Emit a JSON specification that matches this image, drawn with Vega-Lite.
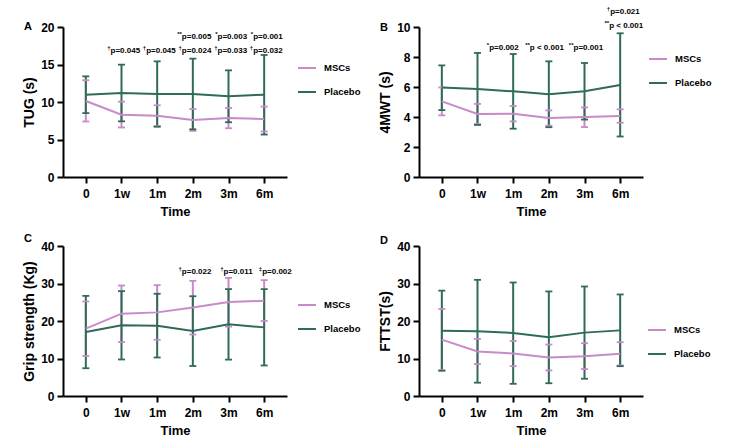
{
  "$schema": "https://vega.github.io/schema/vega-lite/v6.json",
  "padding": {"left": 22, "top": 5, "right": 5, "bottom": 5},
  "background": "white",
  "datasets": {
    "summary": [
      {"panel": "A", "time": "0", "group": "MSCs", "mean": 10.13, "lo": 7.4, "hi": 12.9},
      {"panel": "A", "time": "1w", "group": "MSCs", "mean": 8.31, "lo": 6.6, "hi": 10.04},
      {"panel": "A", "time": "1m", "group": "MSCs", "mean": 8.18, "lo": 6.8, "hi": 9.56},
      {"panel": "A", "time": "2m", "group": "MSCs", "mean": 7.6, "lo": 6.15, "hi": 9.07},
      {"panel": "A", "time": "3m", "group": "MSCs", "mean": 7.87, "lo": 6.5, "hi": 9.2},
      {"panel": "A", "time": "6m", "group": "MSCs", "mean": 7.73, "lo": 6.06, "hi": 9.38},
      {"panel": "A", "time": "0", "group": "Placebo", "mean": 10.98, "lo": 8.52, "hi": 13.42},
      {"panel": "A", "time": "1w", "group": "Placebo", "mean": 11.2, "lo": 7.42, "hi": 14.98},
      {"panel": "A", "time": "1m", "group": "Placebo", "mean": 11.07, "lo": 6.7, "hi": 15.42},
      {"panel": "A", "time": "2m", "group": "Placebo", "mean": 11.07, "lo": 6.36, "hi": 15.78},
      {"panel": "A", "time": "3m", "group": "Placebo", "mean": 10.76, "lo": 7.3, "hi": 14.22},
      {"panel": "A", "time": "6m", "group": "Placebo", "mean": 10.98, "lo": 5.66, "hi": 16.27},
      {"panel": "B", "time": "0", "group": "MSCs", "mean": 5.04, "lo": 4.11, "hi": 5.97},
      {"panel": "B", "time": "1w", "group": "MSCs", "mean": 4.2, "lo": 3.53, "hi": 4.87},
      {"panel": "B", "time": "1m", "group": "MSCs", "mean": 4.22, "lo": 3.71, "hi": 4.73},
      {"panel": "B", "time": "2m", "group": "MSCs", "mean": 3.93, "lo": 3.42, "hi": 4.44},
      {"panel": "B", "time": "3m", "group": "MSCs", "mean": 4.0, "lo": 3.33, "hi": 4.64},
      {"panel": "B", "time": "6m", "group": "MSCs", "mean": 4.07, "lo": 3.62, "hi": 4.51},
      {"panel": "B", "time": "0", "group": "Placebo", "mean": 5.96, "lo": 4.46, "hi": 7.44},
      {"panel": "B", "time": "1w", "group": "Placebo", "mean": 5.87, "lo": 3.47, "hi": 8.27},
      {"panel": "B", "time": "1m", "group": "Placebo", "mean": 5.71, "lo": 3.22, "hi": 8.2},
      {"panel": "B", "time": "2m", "group": "Placebo", "mean": 5.51, "lo": 3.32, "hi": 7.71},
      {"panel": "B", "time": "3m", "group": "Placebo", "mean": 5.71, "lo": 3.83, "hi": 7.6},
      {"panel": "B", "time": "6m", "group": "Placebo", "mean": 6.13, "lo": 2.7, "hi": 9.58},
      {"panel": "C", "time": "0", "group": "MSCs", "mean": 17.96, "lo": 10.7, "hi": 25.2},
      {"panel": "C", "time": "1w", "group": "MSCs", "mean": 21.95, "lo": 14.4, "hi": 29.47},
      {"panel": "C", "time": "1m", "group": "MSCs", "mean": 22.3, "lo": 15.0, "hi": 29.56},
      {"panel": "C", "time": "2m", "group": "MSCs", "mean": 23.63, "lo": 16.4, "hi": 30.7},
      {"panel": "C", "time": "3m", "group": "MSCs", "mean": 25.04, "lo": 18.5, "hi": 31.5},
      {"panel": "C", "time": "6m", "group": "MSCs", "mean": 25.4, "lo": 20.0, "hi": 30.9},
      {"panel": "C", "time": "0", "group": "Placebo", "mean": 17.08, "lo": 7.4, "hi": 26.7},
      {"panel": "C", "time": "1w", "group": "Placebo", "mean": 18.85, "lo": 9.74, "hi": 27.96},
      {"panel": "C", "time": "1m", "group": "Placebo", "mean": 18.76, "lo": 10.27, "hi": 27.26},
      {"panel": "C", "time": "2m", "group": "Placebo", "mean": 17.35, "lo": 8.0, "hi": 26.6},
      {"panel": "C", "time": "3m", "group": "Placebo", "mean": 19.1, "lo": 9.7, "hi": 28.5},
      {"panel": "C", "time": "6m", "group": "Placebo", "mean": 18.3, "lo": 8.14, "hi": 28.5},
      {"panel": "D", "time": "0", "group": "MSCs", "mean": 15.04, "lo": 6.9, "hi": 23.19},
      {"panel": "D", "time": "1w", "group": "MSCs", "mean": 11.86, "lo": 8.5, "hi": 15.22},
      {"panel": "D", "time": "1m", "group": "MSCs", "mean": 11.33, "lo": 7.96, "hi": 14.69},
      {"panel": "D", "time": "2m", "group": "MSCs", "mean": 10.27, "lo": 6.81, "hi": 13.72},
      {"panel": "D", "time": "3m", "group": "MSCs", "mean": 10.62, "lo": 7.17, "hi": 14.07},
      {"panel": "D", "time": "6m", "group": "MSCs", "mean": 11.24, "lo": 8.14, "hi": 14.34},
      {"panel": "D", "time": "0", "group": "Placebo", "mean": 17.43, "lo": 6.73, "hi": 28.1},
      {"panel": "D", "time": "1w", "group": "Placebo", "mean": 17.26, "lo": 3.55, "hi": 30.97},
      {"panel": "D", "time": "1m", "group": "Placebo", "mean": 16.8, "lo": 3.25, "hi": 30.27},
      {"panel": "D", "time": "2m", "group": "Placebo", "mean": 15.66, "lo": 3.4, "hi": 27.88},
      {"panel": "D", "time": "3m", "group": "Placebo", "mean": 16.9, "lo": 4.6, "hi": 29.2},
      {"panel": "D", "time": "6m", "group": "Placebo", "mean": 17.5, "lo": 7.95, "hi": 27.08}
    ],
    "notes": [
      {"panel": "A", "line": 1, "time": "2m", "sym": "**", "p": "p=0.005"},
      {"panel": "A", "line": 1, "time": "3m", "sym": "*", "p": "p=0.003"},
      {"panel": "A", "line": 1, "time": "6m", "sym": "*", "p": "p=0.001"},
      {"panel": "A", "line": 2, "time": "1w", "sym": "†", "p": "p=0.045"},
      {"panel": "A", "line": 2, "time": "1m", "sym": "†", "p": "p=0.045"},
      {"panel": "A", "line": 2, "time": "2m", "sym": "†", "p": "p=0.024"},
      {"panel": "A", "line": 2, "time": "3m", "sym": "†", "p": "p=0.033"},
      {"panel": "A", "line": 2, "time": "6m", "sym": "†", "p": "p=0.032"},
      {"panel": "B", "line": 1, "time": "1m", "sym": "*", "p": "p=0.002"},
      {"panel": "B", "line": 1, "time": "2m", "sym": "**", "p": "p < 0.001"},
      {"panel": "B", "line": 1, "time": "3m", "sym": "**", "p": "p=0.001"},
      {"panel": "B", "line": 2, "time": "6m", "sym": "†", "p": "p=0.021"},
      {"panel": "B", "line": 3, "time": "6m", "sym": "**", "p": "p < 0.001"},
      {"panel": "C", "line": 1, "time": "2m", "sym": "†", "p": "p=0.022"},
      {"panel": "C", "line": 1, "time": "3m", "sym": "†", "p": "p=0.011"},
      {"panel": "C", "line": 1, "time": "6m", "sym": "‡", "p": "p=0.002"}
    ]
  },
  "vconcat": [
    {
      "hconcat": [
        {
          "width": 224, "height": 150,
          "title": {"text": "A", "dx": -39, "dy": 15},
          "encoding": {"x": {"field": "time", "type": "ordinal", "scale": {"type": "point", "domain": ["0", "1w", "1m", "2m", "3m", "6m"], "padding": 0.64}, "axis": {"title": "Time", "labelAngle": 0}}},
          "layer": [
            {
              "data": {"name": "summary"},
              "transform": [{"filter": "datum.panel === 'A'"}],
              "encoding": {"color": {"field": "group", "type": "nominal", "scale": {"domain": ["MSCs", "Placebo"], "range": ["#C88AC8", "#2F6B58"]}, "legend": {"title": null, "orient": "none", "legendX": 234, "legendY": 31}}},
              "layer": [
                {"mark": {"type": "rule", "strokeWidth": 2}, "encoding": {"y": {"field": "lo", "type": "quantitative", "scale": {"domain": [0, 20]}, "axis": {"values": [0, 5, 10, 15, 20], "title": "TUG (s)"}}, "y2": {"field": "hi"}}},
                {"mark": {"type": "tick", "thickness": 1.8, "size": 7, "opacity": 1}, "encoding": {"y": {"field": "lo", "type": "quantitative", "scale": {"domain": [0, 20]}, "axis": {"values": [0, 5, 10, 15, 20], "title": "TUG (s)"}}}},
                {"mark": {"type": "tick", "thickness": 1.8, "size": 7, "opacity": 1}, "encoding": {"y": {"field": "hi", "type": "quantitative", "scale": {"domain": [0, 20]}, "axis": {"values": [0, 5, 10, 15, 20], "title": "TUG (s)"}}}},
                {"mark": {"type": "line", "strokeWidth": 2}, "encoding": {"y": {"field": "mean", "type": "quantitative", "scale": {"domain": [0, 20]}, "axis": {"values": [0, 5, 10, 15, 20], "title": "TUG (s)"}}, "order": {"value": null}}}
              ]
            },
            {
              "data": {"name": "notes"},
              "transform": [{"filter": "datum.panel === 'A' && datum.line === 1"}],
              "encoding": {"y": {"datum": 18.7, "type": "quantitative", "scale": {"domain": [0, 20]}, "axis": {"values": [0, 5, 10, 15, 20], "title": "TUG (s)"}}},
              "layer": [
                {"mark": {"type": "text", "align": "left", "baseline": "middle", "dx": -11, "fontSize": 8, "fontWeight": "bold", "color": "#000"}, "encoding": {"text": {"field": "p"}}},
                {"mark": {"type": "text", "align": "right", "baseline": "middle", "dx": -11, "dy": -3, "fontSize": 6, "fontWeight": "bold", "color": "#000"}, "encoding": {"text": {"field": "sym"}}}
              ]
            },
            {
              "data": {"name": "notes"},
              "transform": [{"filter": "datum.panel === 'A' && datum.line === 2"}],
              "encoding": {"y": {"datum": 16.8, "type": "quantitative", "scale": {"domain": [0, 20]}, "axis": {"values": [0, 5, 10, 15, 20], "title": "TUG (s)"}}},
              "layer": [
                {"mark": {"type": "text", "align": "left", "baseline": "middle", "dx": -11, "fontSize": 8, "fontWeight": "bold", "color": "#000"}, "encoding": {"text": {"field": "p"}}},
                {"mark": {"type": "text", "align": "right", "baseline": "middle", "dx": -11, "dy": -3, "fontSize": 6, "fontWeight": "bold", "color": "#000"}, "encoding": {"text": {"field": "sym"}}}
              ]
            }
          ]
        },
        {
          "width": 224, "height": 150,
          "title": {"text": "B", "dx": -39, "dy": 31},
          "encoding": {"x": {"field": "time", "type": "ordinal", "scale": {"type": "point", "domain": ["0", "1w", "1m", "2m", "3m", "6m"], "padding": 0.64}, "axis": {"title": "Time", "labelAngle": 0}}},
          "layer": [
            {
              "data": {"name": "summary"},
              "transform": [{"filter": "datum.panel === 'B'"}],
              "encoding": {"color": {"field": "group", "type": "nominal", "scale": {"domain": ["MSCs", "Placebo"], "range": ["#C88AC8", "#2F6B58"]}, "legend": {"title": null, "orient": "none", "legendX": 229, "legendY": 22}}},
              "layer": [
                {"mark": {"type": "rule", "strokeWidth": 2}, "encoding": {"y": {"field": "lo", "type": "quantitative", "scale": {"domain": [0, 10]}, "axis": {"values": [0, 2, 4, 6, 8, 10], "title": "4MWT (s)"}}, "y2": {"field": "hi"}}},
                {"mark": {"type": "tick", "thickness": 1.8, "size": 7, "opacity": 1}, "encoding": {"y": {"field": "lo", "type": "quantitative", "scale": {"domain": [0, 10]}, "axis": {"values": [0, 2, 4, 6, 8, 10], "title": "4MWT (s)"}}}},
                {"mark": {"type": "tick", "thickness": 1.8, "size": 7, "opacity": 1}, "encoding": {"y": {"field": "hi", "type": "quantitative", "scale": {"domain": [0, 10]}, "axis": {"values": [0, 2, 4, 6, 8, 10], "title": "4MWT (s)"}}}},
                {"mark": {"type": "line", "strokeWidth": 2}, "encoding": {"y": {"field": "mean", "type": "quantitative", "scale": {"domain": [0, 10]}, "axis": {"values": [0, 2, 4, 6, 8, 10], "title": "4MWT (s)"}}, "order": {"value": null}}}
              ]
            },
            {
              "data": {"name": "notes"},
              "transform": [{"filter": "datum.panel === 'B' && datum.time === '1m'"}],
              "encoding": {"y": {"datum": 8.6, "type": "quantitative", "scale": {"domain": [0, 10]}, "axis": {"values": [0, 2, 4, 6, 8, 10], "title": "4MWT (s)"}}},
              "layer": [
                {"mark": {"type": "text", "align": "left", "baseline": "middle", "dx": -24, "fontSize": 8, "fontWeight": "bold", "color": "#000"}, "encoding": {"text": {"field": "p"}}},
                {"mark": {"type": "text", "align": "right", "baseline": "middle", "dx": -24, "dy": -3, "fontSize": 6, "fontWeight": "bold", "color": "#000"}, "encoding": {"text": {"field": "sym"}}}
              ]
            },
            {
              "data": {"name": "notes"},
              "transform": [{"filter": "datum.panel === 'B' && datum.time === '2m'"}],
              "encoding": {"y": {"datum": 8.6, "type": "quantitative", "scale": {"domain": [0, 10]}, "axis": {"values": [0, 2, 4, 6, 8, 10], "title": "4MWT (s)"}}},
              "layer": [
                {"mark": {"type": "text", "align": "left", "baseline": "middle", "dx": -19, "fontSize": 8, "fontWeight": "bold", "color": "#000"}, "encoding": {"text": {"field": "p"}}},
                {"mark": {"type": "text", "align": "right", "baseline": "middle", "dx": -19, "dy": -3, "fontSize": 6, "fontWeight": "bold", "color": "#000"}, "encoding": {"text": {"field": "sym"}}}
              ]
            },
            {
              "data": {"name": "notes"},
              "transform": [{"filter": "datum.panel === 'B' && datum.time === '3m'"}],
              "encoding": {"y": {"datum": 8.6, "type": "quantitative", "scale": {"domain": [0, 10]}, "axis": {"values": [0, 2, 4, 6, 8, 10], "title": "4MWT (s)"}}},
              "layer": [
                {"mark": {"type": "text", "align": "left", "baseline": "middle", "dx": -11, "fontSize": 8, "fontWeight": "bold", "color": "#000"}, "encoding": {"text": {"field": "p"}}},
                {"mark": {"type": "text", "align": "right", "baseline": "middle", "dx": -11, "dy": -3, "fontSize": 6, "fontWeight": "bold", "color": "#000"}, "encoding": {"text": {"field": "sym"}}}
              ]
            },
            {
              "data": {"name": "notes"},
              "transform": [{"filter": "datum.panel === 'B' && datum.line === 2"}],
              "encoding": {"y": {"datum": 11.0, "type": "quantitative", "scale": {"domain": [0, 10]}, "axis": {"values": [0, 2, 4, 6, 8, 10], "title": "4MWT (s)"}}},
              "layer": [
                {"mark": {"type": "text", "align": "left", "baseline": "middle", "dx": -10, "fontSize": 8, "fontWeight": "bold", "color": "#000"}, "encoding": {"text": {"field": "p"}}},
                {"mark": {"type": "text", "align": "right", "baseline": "middle", "dx": -10, "dy": -3, "fontSize": 6, "fontWeight": "bold", "color": "#000"}, "encoding": {"text": {"field": "sym"}}}
              ]
            },
            {
              "data": {"name": "notes"},
              "transform": [{"filter": "datum.panel === 'B' && datum.line === 3"}],
              "encoding": {"y": {"datum": 10.1, "type": "quantitative", "scale": {"domain": [0, 10]}, "axis": {"values": [0, 2, 4, 6, 8, 10], "title": "4MWT (s)"}}},
              "layer": [
                {"mark": {"type": "text", "align": "left", "baseline": "middle", "dx": -11, "fontSize": 8, "fontWeight": "bold", "color": "#000"}, "encoding": {"text": {"field": "p"}}},
                {"mark": {"type": "text", "align": "right", "baseline": "middle", "dx": -11, "dy": -3, "fontSize": 6, "fontWeight": "bold", "color": "#000"}, "encoding": {"text": {"field": "sym"}}}
              ]
            }
          ]
        }
      ],
      "spacing": 17,
      "resolve": {"scale": {"color": "independent"}, "legend": {"color": "independent"}}
    },
    {
      "hconcat": [
        {
          "width": 224, "height": 150,
          "title": {"text": "C", "dx": -39, "dy": 8},
          "encoding": {"x": {"field": "time", "type": "ordinal", "scale": {"type": "point", "domain": ["0", "1w", "1m", "2m", "3m", "6m"], "padding": 0.64}, "axis": {"title": "Time", "labelAngle": 0}}},
          "layer": [
            {
              "data": {"name": "summary"},
              "transform": [{"filter": "datum.panel === 'C'"}],
              "encoding": {"color": {"field": "group", "type": "nominal", "scale": {"domain": ["MSCs", "Placebo"], "range": ["#C88AC8", "#2F6B58"]}, "legend": {"title": null, "orient": "none", "legendX": 234, "legendY": 49}}},
              "layer": [
                {"mark": {"type": "rule", "strokeWidth": 2}, "encoding": {"y": {"field": "lo", "type": "quantitative", "scale": {"domain": [0, 40]}, "axis": {"values": [0, 10, 20, 30, 40], "title": "Grip strength (Kg)"}}, "y2": {"field": "hi"}}},
                {"mark": {"type": "tick", "thickness": 1.8, "size": 7, "opacity": 1}, "encoding": {"y": {"field": "lo", "type": "quantitative", "scale": {"domain": [0, 40]}, "axis": {"values": [0, 10, 20, 30, 40], "title": "Grip strength (Kg)"}}}},
                {"mark": {"type": "tick", "thickness": 1.8, "size": 7, "opacity": 1}, "encoding": {"y": {"field": "hi", "type": "quantitative", "scale": {"domain": [0, 40]}, "axis": {"values": [0, 10, 20, 30, 40], "title": "Grip strength (Kg)"}}}},
                {"mark": {"type": "line", "strokeWidth": 2}, "encoding": {"y": {"field": "mean", "type": "quantitative", "scale": {"domain": [0, 40]}, "axis": {"values": [0, 10, 20, 30, 40], "title": "Grip strength (Kg)"}}, "order": {"value": null}}}
              ]
            },
            {
              "data": {"name": "notes"},
              "transform": [{"filter": "datum.panel === 'C' && datum.time === '2m'"}],
              "encoding": {"y": {"datum": 33.1, "type": "quantitative", "scale": {"domain": [0, 40]}, "axis": {"values": [0, 10, 20, 30, 40], "title": "Grip strength (Kg)"}}},
              "layer": [
                {"mark": {"type": "text", "align": "left", "baseline": "middle", "dx": -11, "fontSize": 8, "fontWeight": "bold", "color": "#000"}, "encoding": {"text": {"field": "p"}}},
                {"mark": {"type": "text", "align": "right", "baseline": "middle", "dx": -11, "dy": -3, "fontSize": 6, "fontWeight": "bold", "color": "#000"}, "encoding": {"text": {"field": "sym"}}}
              ]
            },
            {
              "data": {"name": "notes"},
              "transform": [{"filter": "datum.panel === 'C' && datum.time === '3m'"}],
              "encoding": {"y": {"datum": 33.1, "type": "quantitative", "scale": {"domain": [0, 40]}, "axis": {"values": [0, 10, 20, 30, 40], "title": "Grip strength (Kg)"}}},
              "layer": [
                {"mark": {"type": "text", "align": "left", "baseline": "middle", "dx": -5, "fontSize": 8, "fontWeight": "bold", "color": "#000"}, "encoding": {"text": {"field": "p"}}},
                {"mark": {"type": "text", "align": "right", "baseline": "middle", "dx": -5, "dy": -3, "fontSize": 6, "fontWeight": "bold", "color": "#000"}, "encoding": {"text": {"field": "sym"}}}
              ]
            },
            {
              "data": {"name": "notes"},
              "transform": [{"filter": "datum.panel === 'C' && datum.time === '6m'"}],
              "encoding": {"y": {"datum": 33.1, "type": "quantitative", "scale": {"domain": [0, 40]}, "axis": {"values": [0, 10, 20, 30, 40], "title": "Grip strength (Kg)"}}},
              "layer": [
                {"mark": {"type": "text", "align": "left", "baseline": "middle", "dx": -2, "fontSize": 8, "fontWeight": "bold", "color": "#000"}, "encoding": {"text": {"field": "p"}}},
                {"mark": {"type": "text", "align": "right", "baseline": "middle", "dx": -2, "dy": -3, "fontSize": 6, "fontWeight": "bold", "color": "#000"}, "encoding": {"text": {"field": "sym"}}}
              ]
            }
          ]
        },
        {
          "width": 224, "height": 150,
          "title": {"text": "D", "dx": -39, "dy": 10},
          "encoding": {"x": {"field": "time", "type": "ordinal", "scale": {"type": "point", "domain": ["0", "1w", "1m", "2m", "3m", "6m"], "padding": 0.64}, "axis": {"title": "Time", "labelAngle": 0}}},
          "layer": [
            {
              "data": {"name": "summary"},
              "transform": [{"filter": "datum.panel === 'D'"}],
              "encoding": {"color": {"field": "group", "type": "nominal", "scale": {"domain": ["MSCs", "Placebo"], "range": ["#C88AC8", "#2F6B58"]}, "legend": {"title": null, "orient": "none", "legendX": 228, "legendY": 74}}},
              "layer": [
                {"mark": {"type": "rule", "strokeWidth": 2}, "encoding": {"y": {"field": "lo", "type": "quantitative", "scale": {"domain": [0, 40]}, "axis": {"values": [0, 10, 20, 30, 40], "title": "FTTST(s)"}}, "y2": {"field": "hi"}}},
                {"mark": {"type": "tick", "thickness": 1.8, "size": 7, "opacity": 1}, "encoding": {"y": {"field": "lo", "type": "quantitative", "scale": {"domain": [0, 40]}, "axis": {"values": [0, 10, 20, 30, 40], "title": "FTTST(s)"}}}},
                {"mark": {"type": "tick", "thickness": 1.8, "size": 7, "opacity": 1}, "encoding": {"y": {"field": "hi", "type": "quantitative", "scale": {"domain": [0, 40]}, "axis": {"values": [0, 10, 20, 30, 40], "title": "FTTST(s)"}}}},
                {"mark": {"type": "line", "strokeWidth": 2}, "encoding": {"y": {"field": "mean", "type": "quantitative", "scale": {"domain": [0, 40]}, "axis": {"values": [0, 10, 20, 30, 40], "title": "FTTST(s)"}}, "order": {"value": null}}}
              ]
            }
          ]
        }
      ],
      "spacing": 17,
      "resolve": {"scale": {"color": "independent"}, "legend": {"color": "independent"}}
    }
  ],
  "spacing": 15,
  "resolve": {"scale": {"color": "independent"}, "legend": {"color": "independent"}},
  "config": {
    "font": "Liberation Sans",
    "view": {"stroke": null},
    "axis": {"domainColor": "#000", "domainWidth": 2, "tickColor": "#000", "tickWidth": 2, "tickSize": 6, "grid": false, "labelFont": "Liberation Sans", "labelFontWeight": "bold", "labelFontSize": 12, "labelColor": "#000", "labelPadding": 3, "titleFont": "Liberation Sans", "titleFontWeight": "bold", "titleColor": "#000"},
    "axisX": {"titleFontSize": 13, "titlePadding": 6, "labelPadding": 5},
    "axisY": {"titleFontSize": 14, "titlePadding": 4},
    "title": {"anchor": "start", "frame": "group", "fontSize": 11, "fontWeight": "bold", "color": "#000", "font": "Liberation Sans"},
    "legend": {"labelFont": "Liberation Sans", "labelFontSize": 9.5, "labelFontWeight": "bold", "labelColor": "#000", "symbolType": "stroke", "symbolStrokeWidth": 2, "symbolSize": 324, "rowPadding": 9, "labelOffset": 7}
  }
}
